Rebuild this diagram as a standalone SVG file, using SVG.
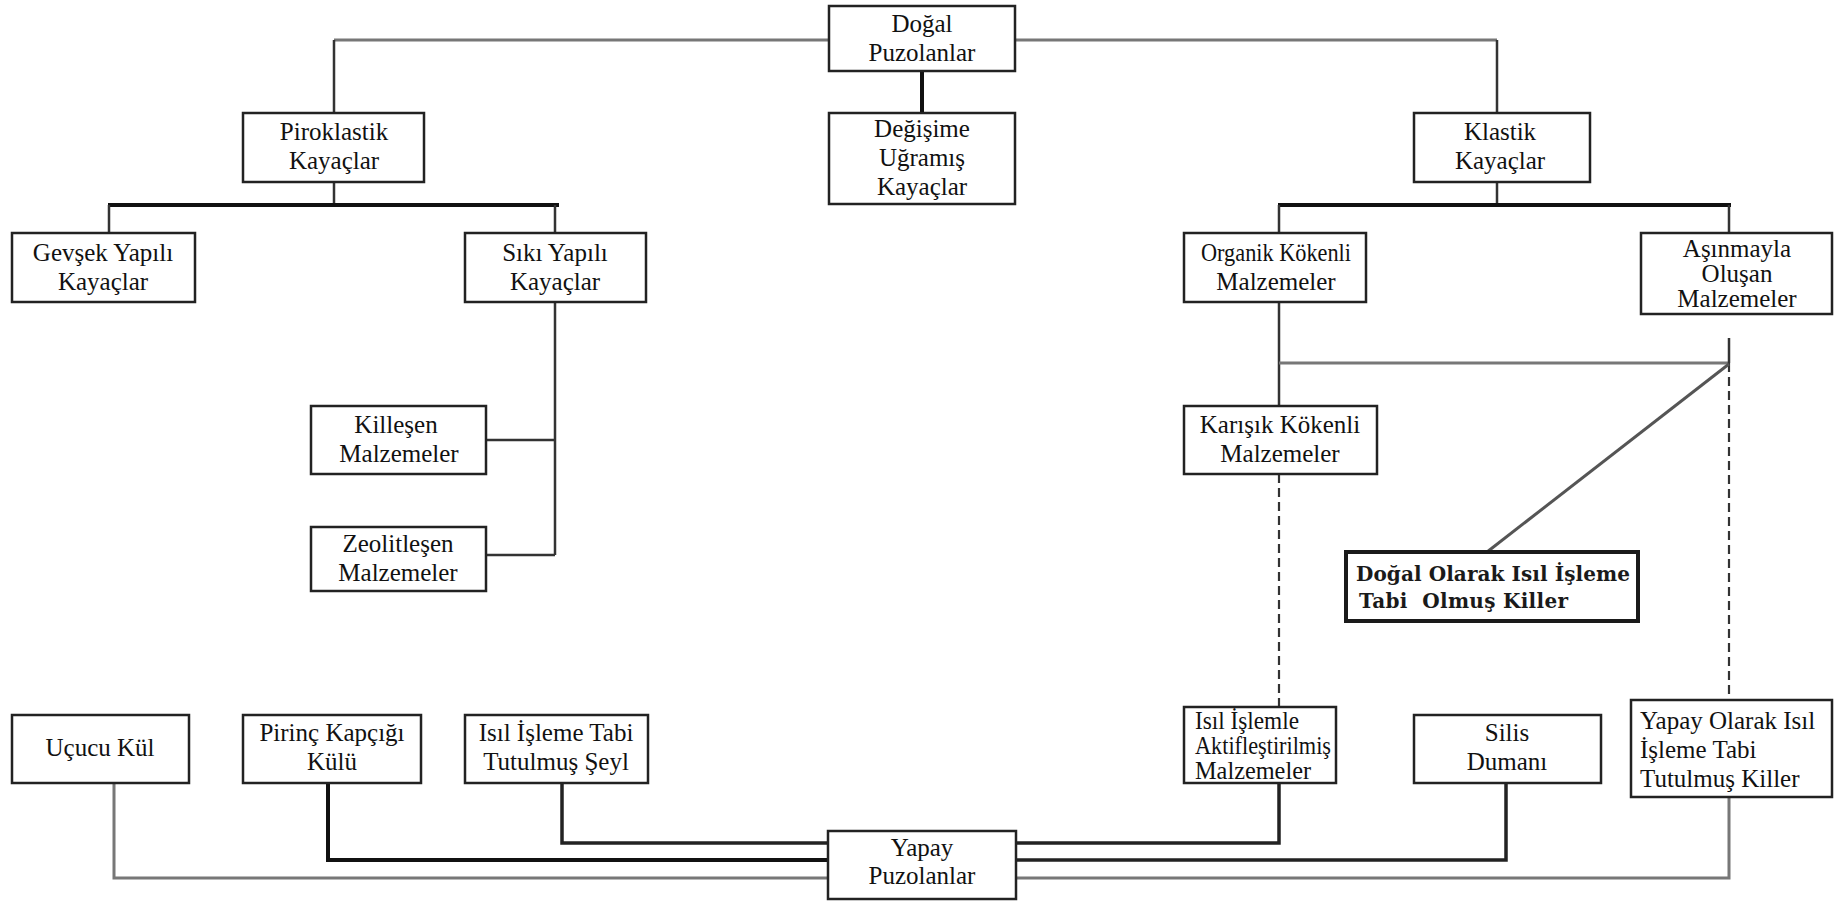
<svg xmlns="http://www.w3.org/2000/svg" width="1838" height="901" viewBox="0 0 1838 901">
<style>
.box{fill:#fff;stroke:#222;stroke-width:2.5}
.bx{fill:#fff;stroke:#1a1a1a;stroke-width:4}
.t{font-family:"Liberation Serif","Times New Roman",serif;font-size:25px;fill:#111;text-anchor:middle}
.tl{font-family:"Liberation Serif","Times New Roman",serif;font-size:25px;fill:#111;text-anchor:start}
.tb{font-family:"DejaVu Serif","Liberation Serif",serif;font-size:20px;font-weight:bold;fill:#1a1a1a;white-space:pre}
.c{fill:none;stroke:#333;stroke-width:2.5}
.g{fill:none;stroke:#777;stroke-width:3}
.k{fill:none;stroke:#111;stroke-width:4}
.m{fill:none;stroke:#222;stroke-width:3.5}
.d{fill:none;stroke:#333;stroke-width:2.2;stroke-dasharray:9 5}
.dg{fill:none;stroke:#555;stroke-width:3}
</style>
<rect width="1838" height="901" fill="#fff"/>
<g id="connectors">
<path class="g" d="M334,40 H829 M1015,40 H1497"/>
<path class="c" d="M334,40 V113 M1497,40 V113"/>
<path class="k" d="M922,71 V113"/>
<path class="c" d="M334,182 V205"/>
<path class="k" d="M108,205 H559"/>
<path class="c" d="M109,205 V233 M555,205 V233"/>
<path class="c" d="M555,302 V555 M486,440 H555 M486,555 H555"/>
<path class="c" d="M1497,182 V205"/>
<path class="k" d="M1278,205 H1731"/>
<path class="c" d="M1279,205 V233 M1729,205 V233"/>
<path class="c" d="M1279,302 V406"/>
<path class="g" d="M1279,363 H1729"/>
<path class="c" d="M1729,338 V363"/>
<path class="d" d="M1279,474 V707 M1729,363 V700"/>
<path class="dg" d="M1729,364 L1487,552"/>
<path class="m" d="M562,783 V843 H828"/>
<path class="k" d="M328,783 V860 H828"/>
<path class="g" d="M114,783 V878 H828"/>
<path class="m" d="M1016,843 H1279 V783"/>
<path class="m" d="M1016,860 H1506 V783"/>
<path class="g" d="M1016,878 H1729 V797"/>
</g>
<g id="dogal-puzolanlar">
<rect class="box" x="829" y="6" width="186" height="65"/>
<text class="t" x="922" y="32">Doğal</text>
<text class="t" x="922" y="61">Puzolanlar</text>
</g>
<g id="piroklastik">
<rect class="box" x="243" y="113" width="181" height="69"/>
<text class="t" x="334" y="140">Piroklastik</text>
<text class="t" x="334" y="169">Kayaçlar</text>
</g>
<g id="degisime">
<rect class="box" x="829" y="113" width="186" height="91"/>
<text class="t" x="922" y="137">Değişime</text>
<text class="t" x="922" y="166">Uğramış</text>
<text class="t" x="922" y="195">Kayaçlar</text>
</g>
<g id="klastik">
<rect class="box" x="1414" y="113" width="176" height="69"/>
<text class="t" x="1500" y="140">Klastik</text>
<text class="t" x="1500" y="169">Kayaçlar</text>
</g>
<g id="gevsek">
<rect class="box" x="12" y="233" width="183" height="69"/>
<text class="t" x="103" y="261">Gevşek Yapılı</text>
<text class="t" x="103" y="290">Kayaçlar</text>
</g>
<g id="siki">
<rect class="box" x="465" y="233" width="181" height="69"/>
<text class="t" x="555" y="261">Sıkı Yapılı</text>
<text class="t" x="555" y="290">Kayaçlar</text>
</g>
<g id="killesen">
<rect class="box" x="311" y="406" width="175" height="68"/>
<text class="t" x="396" y="433">Killeşen</text>
<text class="t" x="399" y="462">Malzemeler</text>
</g>
<g id="zeolitlesen">
<rect class="box" x="311" y="527" width="175" height="64"/>
<text class="t" x="398" y="552">Zeolitleşen</text>
<text class="t" x="398" y="581">Malzemeler</text>
</g>
<g id="organik">
<rect class="box" x="1184" y="233" width="182" height="69"/>
<text class="t" x="1276" y="261" textLength="150" lengthAdjust="spacingAndGlyphs">Organik Kökenli</text>
<text class="t" x="1276" y="290">Malzemeler</text>
</g>
<g id="asinmayla">
<rect class="box" x="1641" y="233" width="191" height="81"/>
<text class="t" x="1737" y="257">Aşınmayla</text>
<text class="t" x="1737" y="282">Oluşan</text>
<text class="t" x="1737" y="307">Malzemeler</text>
</g>
<g id="karisik">
<rect class="box" x="1184" y="406" width="193" height="68"/>
<text class="t" x="1280" y="433">Karışık Kökenli</text>
<text class="t" x="1280" y="462">Malzemeler</text>
</g>
<g id="dogal-olarak">
<rect class="bx" x="1346" y="552" width="292" height="69"/>
<text class="tb" x="1356" y="581" textLength="274" lengthAdjust="spacing">Doğal Olarak Isıl İşleme</text>
<text class="tb" x="1359" y="608" textLength="209" lengthAdjust="spacing">Tabi  Olmuş Killer</text>
</g>
<g id="ucucu-kul">
<rect class="box" x="12" y="715" width="177" height="68"/>
<text class="t" x="100" y="756">Uçucu Kül</text>
</g>
<g id="pirinc">
<rect class="box" x="243" y="715" width="178" height="68"/>
<text class="t" x="332" y="741">Pirinç Kapçığı</text>
<text class="t" x="332" y="770">Külü</text>
</g>
<g id="seyl">
<rect class="box" x="465" y="715" width="183" height="68"/>
<text class="t" x="556" y="741">Isıl İşleme Tabi</text>
<text class="t" x="556" y="770">Tutulmuş Şeyl</text>
</g>
<g id="isil-islemle">
<rect class="box" x="1184" y="707" width="152" height="76"/>
<text class="tl" x="1195" y="729" textLength="104" lengthAdjust="spacingAndGlyphs">Isıl İşlemle</text>
<text class="tl" x="1195" y="754" textLength="136" lengthAdjust="spacingAndGlyphs">Aktifleştirilmiş</text>
<text class="tl" x="1195" y="779" textLength="116" lengthAdjust="spacingAndGlyphs">Malzemeler</text>
</g>
<g id="silis">
<rect class="box" x="1414" y="715" width="187" height="68"/>
<text class="t" x="1507" y="741">Silis</text>
<text class="t" x="1507" y="770">Dumanı</text>
</g>
<g id="yapay-olarak">
<rect class="box" x="1631" y="700" width="201" height="97"/>
<text class="tl" x="1640" y="729">Yapay Olarak Isıl</text>
<text class="tl" x="1640" y="758">İşleme Tabi</text>
<text class="tl" x="1640" y="787">Tutulmuş Killer</text>
</g>
<g id="yapay-puzolanlar">
<rect class="box" x="828" y="831" width="188" height="68"/>
<text class="t" x="922" y="856">Yapay</text>
<text class="t" x="922" y="884">Puzolanlar</text>
</g>
</svg>
